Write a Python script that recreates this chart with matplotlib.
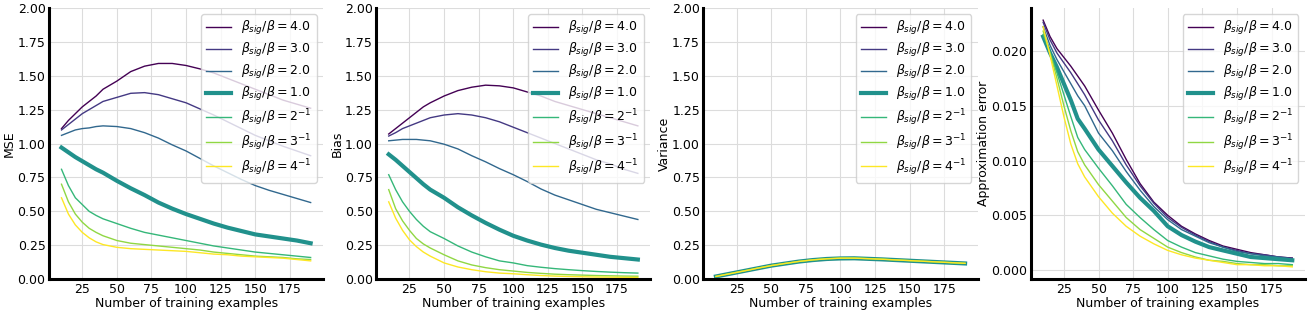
import matplotlib
matplotlib.use("Agg")
import matplotlib.pyplot as plt

n_train = [10, 15, 20, 25, 30, 35, 40, 50, 60, 70, 80, 90, 100, 110, 120, 130, 140, 150, 160, 170, 180, 190]

ratio_labels = [r"$\beta_{sig}/\beta = 4.0$", r"$\beta_{sig}/\beta = 3.0$", r"$\beta_{sig}/\beta = 2.0$",
                r"$\beta_{sig}/\beta = 1.0$", r"$\beta_{sig}/\beta = 2^{-1}$", r"$\beta_{sig}/\beta = 3^{-1}$",
                r"$\beta_{sig}/\beta = 4^{-1}$"]

mse = [
    [1.11, 1.17, 1.22, 1.27, 1.31, 1.35, 1.40, 1.46, 1.53, 1.57, 1.59, 1.59, 1.575, 1.55, 1.52, 1.48, 1.44, 1.40, 1.36, 1.32, 1.29, 1.26],
    [1.10, 1.14, 1.18, 1.22, 1.25, 1.28, 1.31, 1.34, 1.37, 1.375, 1.36, 1.33, 1.30, 1.255, 1.21, 1.16, 1.11, 1.06, 1.02, 0.98, 0.945, 0.91],
    [1.06, 1.08, 1.10, 1.11, 1.115, 1.125, 1.13, 1.125, 1.11, 1.08, 1.04, 0.99, 0.945, 0.89, 0.835, 0.785, 0.735, 0.69, 0.655, 0.625, 0.595, 0.565],
    [0.97, 0.935, 0.90, 0.87, 0.84, 0.81, 0.785, 0.725, 0.67, 0.62, 0.565, 0.52, 0.48, 0.445, 0.41, 0.38, 0.355, 0.33, 0.315, 0.30, 0.285, 0.265],
    [0.81, 0.69, 0.60, 0.55, 0.50, 0.47, 0.445, 0.41, 0.375, 0.345, 0.325, 0.305, 0.285, 0.265, 0.245, 0.23, 0.215, 0.20, 0.19, 0.18, 0.17, 0.16],
    [0.70, 0.57, 0.48, 0.42, 0.375, 0.345, 0.32, 0.285, 0.265, 0.255, 0.245, 0.235, 0.225, 0.215, 0.20, 0.19, 0.18, 0.17, 0.165, 0.16, 0.15, 0.145],
    [0.60, 0.48, 0.40, 0.345, 0.305, 0.275, 0.255, 0.235, 0.225, 0.22, 0.215, 0.21, 0.205, 0.195, 0.185, 0.18, 0.17, 0.165, 0.16, 0.155, 0.145, 0.135],
]

bias = [
    [1.07, 1.11, 1.15, 1.19, 1.23, 1.27, 1.30, 1.35, 1.39, 1.415, 1.43, 1.425, 1.41, 1.38, 1.35, 1.31, 1.28, 1.25, 1.22, 1.19, 1.16, 1.13],
    [1.055, 1.08, 1.11, 1.13, 1.15, 1.17, 1.19, 1.21, 1.22, 1.21, 1.19, 1.16, 1.12, 1.08, 1.04, 1.00, 0.96, 0.92, 0.88, 0.85, 0.81, 0.78],
    [1.02, 1.025, 1.03, 1.03, 1.03, 1.025, 1.02, 0.995, 0.96, 0.91, 0.865, 0.815, 0.77, 0.72, 0.665, 0.62, 0.585, 0.55, 0.515, 0.49, 0.465, 0.44],
    [0.92, 0.88, 0.835, 0.79, 0.745, 0.70, 0.66, 0.60, 0.53, 0.47, 0.415, 0.365, 0.32, 0.285, 0.255, 0.23, 0.21, 0.195, 0.18, 0.165, 0.155, 0.145],
    [0.77, 0.66, 0.57, 0.50, 0.44, 0.39, 0.35, 0.30, 0.245, 0.20, 0.165, 0.135, 0.12, 0.10, 0.088, 0.078, 0.07, 0.063, 0.057, 0.052, 0.048, 0.045],
    [0.66, 0.52, 0.43, 0.36, 0.30, 0.26, 0.23, 0.18, 0.135, 0.105, 0.085, 0.07, 0.06, 0.05, 0.043, 0.037, 0.033, 0.03, 0.027, 0.025, 0.023, 0.022],
    [0.57, 0.45, 0.36, 0.29, 0.24, 0.20, 0.17, 0.12, 0.09, 0.07, 0.055, 0.045, 0.04, 0.033, 0.027, 0.023, 0.02, 0.018, 0.016, 0.015, 0.014, 0.013],
]

variance = [
    [0.020, 0.030, 0.040, 0.050, 0.060, 0.070, 0.080, 0.100, 0.115, 0.130, 0.142, 0.150, 0.155, 0.155, 0.151, 0.147, 0.142, 0.137, 0.132, 0.127, 0.122, 0.117],
    [0.021, 0.031, 0.041, 0.051, 0.061, 0.071, 0.081, 0.101, 0.116, 0.131, 0.143, 0.151, 0.156, 0.156, 0.152, 0.148, 0.143, 0.138, 0.133, 0.128, 0.123, 0.118],
    [0.020, 0.030, 0.040, 0.050, 0.060, 0.070, 0.081, 0.100, 0.116, 0.130, 0.142, 0.150, 0.154, 0.155, 0.151, 0.147, 0.142, 0.137, 0.132, 0.127, 0.122, 0.117],
    [0.020, 0.030, 0.040, 0.050, 0.060, 0.070, 0.080, 0.100, 0.115, 0.130, 0.141, 0.149, 0.153, 0.154, 0.150, 0.146, 0.141, 0.136, 0.131, 0.126, 0.121, 0.116],
    [0.021, 0.031, 0.041, 0.051, 0.061, 0.071, 0.082, 0.101, 0.117, 0.131, 0.143, 0.151, 0.155, 0.156, 0.152, 0.148, 0.143, 0.138, 0.133, 0.128, 0.123, 0.118],
    [0.021, 0.031, 0.041, 0.051, 0.061, 0.071, 0.081, 0.101, 0.116, 0.131, 0.143, 0.151, 0.155, 0.156, 0.152, 0.148, 0.142, 0.137, 0.132, 0.127, 0.122, 0.117],
    [0.020, 0.030, 0.040, 0.050, 0.060, 0.070, 0.081, 0.100, 0.116, 0.131, 0.142, 0.150, 0.155, 0.155, 0.151, 0.147, 0.142, 0.137, 0.132, 0.127, 0.122, 0.117],
]

approx_err = [
    [0.0228, 0.0213, 0.0202, 0.0194, 0.0186, 0.0177, 0.0168, 0.0146, 0.0125, 0.0101, 0.0079, 0.0062, 0.0050, 0.0040, 0.0033, 0.0027, 0.0022, 0.0019, 0.0016, 0.0014, 0.0012, 0.0011],
    [0.0226, 0.0210, 0.0198, 0.0189, 0.0180, 0.0170, 0.0160, 0.0137, 0.0118, 0.0096, 0.0077, 0.0061, 0.0048, 0.0039, 0.0032, 0.0026, 0.0021, 0.0018, 0.0015, 0.0014, 0.0012, 0.0011],
    [0.0222, 0.0205, 0.0192, 0.0181, 0.0170, 0.0159, 0.0150, 0.0125, 0.0109, 0.0090, 0.0073, 0.0058, 0.0046, 0.0037, 0.0031, 0.0025, 0.0021, 0.0017, 0.0015, 0.0013, 0.0012, 0.0010],
    [0.0213, 0.0198, 0.0185, 0.0170, 0.0155, 0.0138, 0.0129, 0.0110, 0.0095, 0.0080, 0.0066, 0.0054, 0.0040, 0.0032, 0.0026, 0.0021, 0.0018, 0.0015, 0.0012, 0.0011, 0.0010, 0.0009],
    [0.0215, 0.0198, 0.0180, 0.0160, 0.0140, 0.0121, 0.0110, 0.0093, 0.0077, 0.0060, 0.0048, 0.0037, 0.0027, 0.0021, 0.0016, 0.0013, 0.0010, 0.0008, 0.0007, 0.0006, 0.0006, 0.0005],
    [0.0218, 0.0198, 0.0175, 0.0150, 0.0127, 0.0108, 0.0096, 0.0078, 0.0063, 0.0048, 0.0037, 0.0029, 0.0021, 0.0016, 0.0012, 0.0009, 0.0008, 0.0006, 0.0005, 0.0005, 0.0004, 0.0004],
    [0.0222, 0.0196, 0.0168, 0.0140, 0.0115, 0.0097, 0.0085, 0.0067, 0.0052, 0.0040, 0.0031, 0.0024, 0.0018, 0.0014, 0.0011, 0.0009, 0.0007, 0.0005, 0.0005, 0.0004, 0.0004, 0.0003],
]

panels = [(mse, "MSE"), (bias, "Bias"), (variance, "Variance"), (approx_err, "Approximation error")]

plt.rcParams["font.size"] = 9
colors = plt.cm.viridis([i / 6 for i in range(7)])

fig, axes = plt.subplots(1, 4, figsize=(13.08, 3.13), dpi=100)
fig.subplots_adjust(left=0.0375, right=0.9975, bottom=0.108, top=0.975, wspace=0.194)

for k, (ax, (data, ylabel)) in enumerate(zip(axes, panels)):
    for i, series in enumerate(data):
        lw = 3 if i == 3 else 1
        ax.plot(n_train, series, color=colors[i], lw=lw, label=ratio_labels[i])
    if k < 3:
        ax.set_ylim(0, 2)
    ax.set_ylabel(ylabel, labelpad=1)
    ax.set_xlabel("Number of training examples", labelpad=1)
    ax.set_xticks([25, 50, 75, 100, 125, 150, 175])
    ax.grid(True, color="#dcdcdc", lw=0.8)
    ax.set_axisbelow(True)
    for s in ["top", "right"]:
        ax.spines[s].set_visible(False)
    for s in ["left", "bottom"]:
        ax.spines[s].set_linewidth(2.2)
        ax.spines[s].set_color("black")
    ax.tick_params(length=0, labelsize=9, pad=2.5)
    ax.legend(loc="upper right", fontsize=9, labelspacing=0.33)

fig.savefig("out.png", dpi=100)
